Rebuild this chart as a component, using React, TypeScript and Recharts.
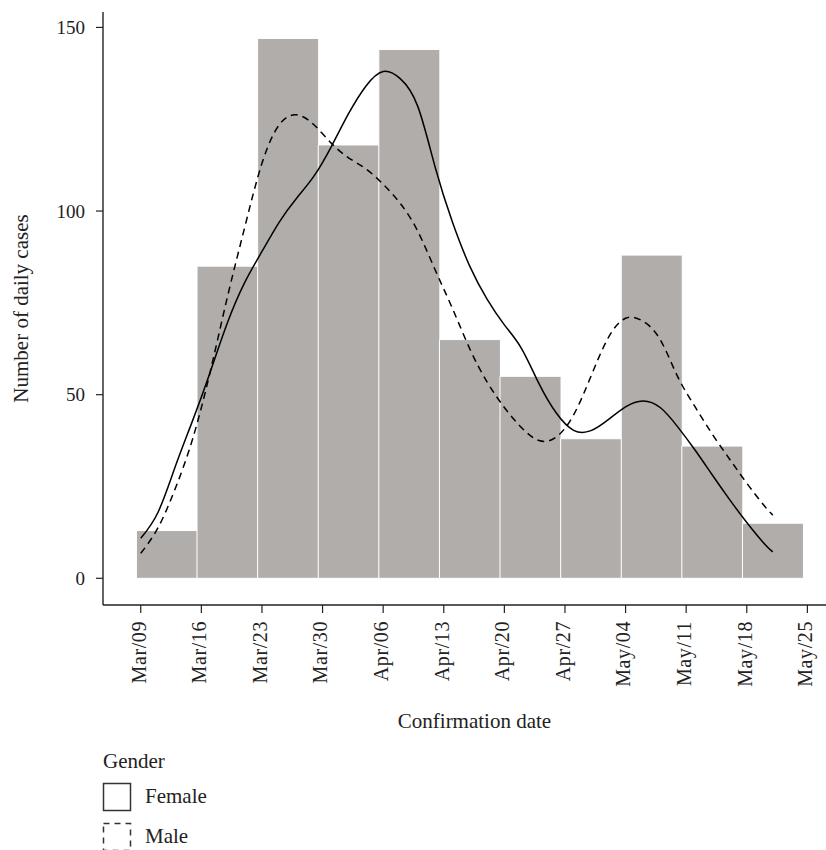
import React from 'react';
import { ComposedChart, Bar, Line, XAxis, YAxis, Legend } from 'recharts';

// Weekly histogram bins (bin centre, in days since Mar/09) and counts
const binCenters = [3, 10, 17, 24, 31, 38, 45, 52, 59, 66, 73];
const weeklyCases = [13, 85, 147, 118, 144, 65, 55, 38, 88, 36, 15];

// Density-style smoothed curves, sampled along the date axis
const curveDays = [0, 2, 4, 6, 8, 10, 12, 14, 16, 18, 20, 22, 24, 26, 28, 30, 32, 34, 36, 38, 40, 42, 44, 46, 48, 50, 52, 54, 56, 58, 60, 62, 64, 66, 68, 70, 72, 73];
const femaleCurve = [10.9, 18, 30.5, 43, 56, 69.5, 80.5, 89, 97, 103.5, 109.5, 117.5, 126.5, 134, 138, 136, 128.5, 112, 97, 85, 76, 69, 62.5, 53, 45, 40.3, 40.2, 43.2, 46.7, 48.3, 46.5, 41.3, 35, 28.2, 21.5, 15.2, 9.5, 7.2];
const maleCurve = [6.8, 13.8, 24.5, 38, 56, 76.5, 95.5, 113, 123.5, 126.2, 123.5, 118.5, 114.5, 111.5, 107.3, 102, 94.5, 84, 73.5, 62.5, 53.5, 46.5, 41, 37.5, 38.5, 44.5, 55, 65.5, 70.8, 70, 65, 55, 46.8, 39.3, 32.5, 25.9, 19.8, 17.2];

// Axis ticks
const xTickDays = [0, 7, 14, 21, 28, 35, 42, 49, 56, 63, 70, 77];
const xTickLabels = ['Mar/09', 'Mar/16', 'Mar/23', 'Mar/30', 'Apr/06', 'Apr/13', 'Apr/20', 'Apr/27', 'May/04', 'May/11', 'May/18', 'May/25'];
const yTicks = [0, 50, 100, 150];

const seriesNames = ['Female', 'Male'];
const legendTitle = 'Gender';

const barData = binCenters.map((d, i) => ({ day: d, cases: weeklyCases[i] }));
const femaleData = curveDays.map((d, i) => ({ day: d, value: femaleCurve[i] }));
const maleData = curveDays.map((d, i) => ({ day: d, value: maleCurve[i] }));

const FONT = '"Liberation Serif", "DejaVu Serif", serif';
const X_DOMAIN: [number, number] = [-4.36, 79.15];
const Y_DOMAIN: [number, number] = [-7.27, 154.2];

const XTick = (props: any) => {
  const { x, y, payload } = props;
  const idx = xTickDays.indexOf(payload.value);
  return (
    <g transform={`translate(${x},${y})`}>
      <text
        transform="rotate(-90)"
        textAnchor="end"
        dy="0.24em"
        fontSize={20}
        fontFamily={FONT}
        fill="#222"
        letterSpacing={0.6}
      >
        {idx >= 0 ? xTickLabels[idx] : ''}
      </text>
    </g>
  );
};

const XLabel = (props: any) => {
  const vb = props.viewBox || {};
  return (
    <text
      x={vb.x + vb.width / 2 + 10}
      y={vb.y + 123}
      textAnchor="middle"
      fontSize={21}
      fontFamily={FONT}
      fill="#222"
    >
      Confirmation date
    </text>
  );
};

const YLabel = (props: any) => {
  const vb = props.viewBox || {};
  const cx = 28;
  const cy = vb.y + vb.height / 2;
  return (
    <text
      x={cx}
      y={cy}
      transform={`rotate(-90, ${cx}, ${cy})`}
      textAnchor="middle"
      fontSize={21}
      fontFamily={FONT}
      fill="#222"
    >
      Number of daily cases
    </text>
  );
};

const LegendContent = (props: any) => {
  const payload = (props.payload || []).filter((p: any) => seriesNames.includes(p.value));
  return (
    <svg width={220} height={110} style={{ display: 'block', overflow: 'visible' }}>
      <text x={8} y={28} fontSize={21} fontFamily={FONT} fill="#222">
        {legendTitle}
      </text>
      {payload.map((entry: any, i: number) => {
        const top = 43.5 + i * 40;
        const dash = entry.payload && entry.payload.strokeDasharray;
        return (
          <g key={entry.value}>
            <rect
              x={8.5}
              y={top}
              width={27}
              height={27}
              fill="none"
              stroke="#333"
              strokeWidth={1.5}
              strokeDasharray={dash ? '6 5' : undefined}
            />
            <text x={50} y={top + 19.5} fontSize={21} fontFamily={FONT} fill="#222">
              {entry.value}
            </text>
          </g>
        );
      })}
    </svg>
  );
};

export default function App() {
  return (
    <div style={{ position: 'absolute', left: 0, top: 0, width: 826, height: 850, background: '#fff' }}>
      <ComposedChart
        width={826}
        height={850}
        data={barData}
        margin={{ top: 12, right: 0, left: 0, bottom: 105 }}
        barCategoryGap={0}
      >
        <XAxis
          xAxisId="bars"
          type="number"
          dataKey="day"
          domain={X_DOMAIN}
          allowDataOverflow
          height={0}
          hide
        />
        <XAxis
          xAxisId="main"
          type="number"
          dataKey="day"
          domain={X_DOMAIN}
          allowDataOverflow
          ticks={xTickDays}
          interval={0}
          height={140}
          tickSize={8}
          tickMargin={8}
          tick={<XTick />}
          axisLine={{ stroke: '#222', strokeWidth: 1.4 }}
          tickLine={{ stroke: '#222', strokeWidth: 1.2 }}
          label={<XLabel />}
        />
        <YAxis
          type="number"
          domain={Y_DOMAIN}
          allowDataOverflow
          ticks={yTicks}
          interval={0}
          width={103}
          tickSize={7}
          tickMargin={11}
          tick={{ fontSize: 19, fontFamily: FONT, fill: '#222' }}
          axisLine={{ stroke: '#222', strokeWidth: 1.4 }}
          tickLine={{ stroke: '#222', strokeWidth: 1.2 }}
          label={<YLabel />}
        />
        <Bar
          xAxisId="bars"
          dataKey="cases"
          fill="#b0adab"
          stroke="#ffffff"
          strokeWidth={1}
          isAnimationActive={false}
          legendType="none"
        />
        <Line
          xAxisId="main"
          data={femaleData}
          dataKey="value"
          name={seriesNames[0]}
          type="natural"
          stroke="#000"
          strokeWidth={1.5}
          dot={false}
          activeDot={false}
          isAnimationActive={false}
        />
        <Line
          xAxisId="main"
          data={maleData}
          dataKey="value"
          name={seriesNames[1]}
          type="natural"
          stroke="#000"
          strokeWidth={1.5}
          strokeDasharray="7 5"
          dot={false}
          activeDot={false}
          isAnimationActive={false}
        />
        <Legend
          layout="vertical"
          align="center"
          verticalAlign="middle"
          wrapperStyle={{ left: 95, top: 740, width: 220 }}
          content={<LegendContent />}
        />
      </ComposedChart>
    </div>
  );
}
